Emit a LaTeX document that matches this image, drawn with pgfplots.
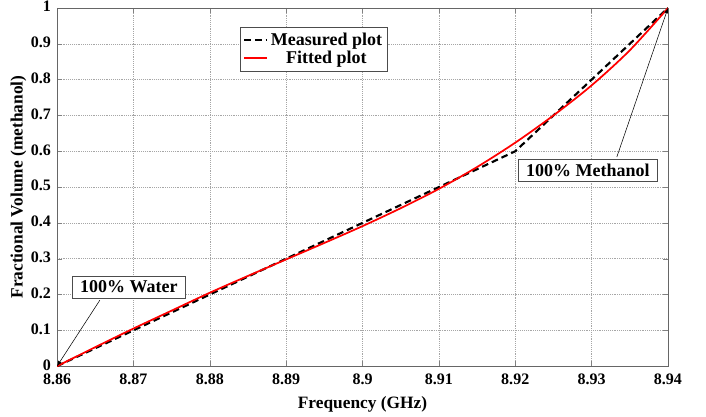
\documentclass[border=0pt]{standalone}
\usepackage{fontspec}
\setmainfont{Liberation Serif}
\usepackage{pgfplots}
\pgfplotsset{compat=1.18}
\begin{document}
\begin{tikzpicture}
\begin{axis}[
  scale only axis, width=458pt, height=268.5pt,
  xmin=8.86, xmax=8.94, ymin=0, ymax=1,
  xtick={8.86,8.87,8.88,8.89,8.9,8.91,8.92,8.93,8.94},
  xticklabels={8.86,8.87,8.88,8.89,8.9,8.91,8.92,8.93,8.94},
  ytick={0,0.1,0.2,0.3,0.4,0.5,0.6,0.7,0.8,0.9,1},
  yticklabels={0,0.1,0.2,0.3,0.4,0.5,0.6,0.7,0.8,0.9,1},
  tick align=inside, major tick length=4pt,
  grid=major, grid style={densely dotted, gray!70},
  axis line style={gray!80!black},
  tick label style={font=\fontsize{12}{14}\selectfont\bfseries},
  xticklabel style={yshift=-2pt},
  yticklabel style={xshift=-1pt, yshift=1pt},
  /pgf/number format/assume math mode=true,
  label style={font=\fontsize{13}{15}\selectfont\bfseries},
  xlabel={Frequency (GHz)},
  ylabel={Fractional Volume (methanol)},
  xlabel style={at={(axis description cs:0.5,-0.106)}, anchor=center},
  ylabel style={at={(axis description cs:-0.063,0.5)}, anchor=center},
  legend cell align=center,
  legend style={at={(axis description cs:0.30,0.947)}, anchor=north west,
    draw=black!70, fill=white, font=\fontsize{13.5}{15}\selectfont\bfseries,
    inner sep=2pt, row sep=-1pt},
]
\addplot[black, line width=1.6pt, dash pattern=on 5pt off 3pt] coordinates {
  (8.86,0) (8.87,0.1) (8.88,0.2) (8.89,0.3) (8.9,0.4)
  (8.91,0.5) (8.92,0.6) (8.93,0.8) (8.94,1)
};
\addlegendentry{Measured plot}
\addplot[red, line width=1.3pt, smooth] coordinates {
  (8.86,0) (8.865,0.053) (8.87,0.105) (8.875,0.155) (8.88,0.205)
  (8.885,0.252) (8.89,0.298) (8.895,0.344) (8.9,0.391) (8.905,0.441)
  (8.91,0.495) (8.915,0.556) (8.92,0.624) (8.925,0.700) (8.93,0.784)
  (8.935,0.882) (8.94,1)
};
\addlegendentry{Fitted plot}
\draw[-latex, thin] (axis cs:8.8656,0.184) -- (axis cs:8.86,0);
\draw[-latex, thin] (axis cs:8.9333,0.584) -- (axis cs:8.94,1);
\node[draw=black!70, fill=white, inner xsep=6pt, inner ysep=3.5pt,
  font=\fontsize{13.5}{15}\selectfont\bfseries] at (axis cs:8.8694,0.2207) {100\% Water};
\node[draw=black!70, fill=white, inner xsep=6pt, inner ysep=3.5pt,
  font=\fontsize{13.5}{15}\selectfont\bfseries] at (axis cs:8.9295,0.547) {100\% Methanol};
\end{axis}
\pgfresetboundingbox
\useasboundingbox (current axis.south west) ++(-42.75pt,-37.5pt)
  rectangle ([shift={(28.5pt,6pt)}]current axis.north east);
\end{tikzpicture}
\end{document}
